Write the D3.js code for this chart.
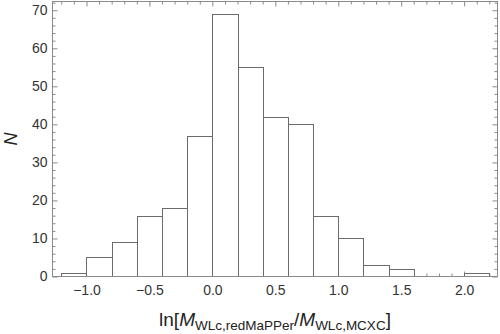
<!DOCTYPE html>
<html>
<head>
<meta charset="utf-8">
<script src="https://cdn.jsdelivr.net/npm/d3@7"></script>
<style>
body { margin: 0; background: #fff; }
text { font-family: "Liberation Sans", Arial, sans-serif; }
</style>
</head>
<body>
<svg id="chart" width="500" height="334"></svg>
<script>
// histogram bins (left edges), width 0.2
var binStarts = [-1.2, -1.0, -0.8, -0.6, -0.4, -0.2, 0.0, 0.2, 0.4, 0.6, 0.8, 1.0, 1.2, 1.4, 1.6, 1.8, 2.0];
var counts    = [1, 5, 9, 16, 18, 37, 69, 55, 42, 40, 16, 10, 3, 2, 0, 0, 1];
var binWidth = 0.2;
var xTicks = [-1.0, -0.5, 0.0, 0.5, 1.0, 1.5, 2.0];
var yTicks = [0, 10, 20, 30, 40, 50, 60, 70];

var svg = d3.select("#chart");
var plotL = 52.5, plotR = 497.5, plotT = 1.5, plotB = 276.5;

var x = d3.scaleLinear().domain([-1.27, 2.265]).range([plotL, plotR]);
var y = d3.scaleLinear().domain([0, 72.3]).range([plotB, plotT]);

var bins = binStarts.map(function(b, i){ return {x0: b, x1: b + binWidth, n: counts[i]}; })
	.filter(function(d){ return d.n > 0; });

// minor tick values
var xMinor = d3.range(-12, 23).map(function(i){ return i / 10; })
	.filter(function(v){ return Math.abs(v * 2 - Math.round(v * 2)) > 1e-6; });
var yMinor = d3.range(0, 73, 2).filter(function(v){ return v % 10 != 0; });

var fmt = function(d){ return d3.format(".1f")(d).replace("-", "\u2212"); };

function addAxis(gen, tx, ty, labels){
	var g = svg.append("g").attr("transform", "translate(" + tx + "," + ty + ")").call(gen);
	g.select(".domain").remove();
	g.selectAll(".tick line").attr("stroke", "#8a8a8a");
	if(!labels) g.selectAll("text").remove();
	else g.selectAll("text").attr("fill", "#333").style("font-size", "14px");
	return g;
}

// bottom / top
addAxis(d3.axisBottom(x).tickValues(xTicks).tickFormat(fmt).tickSize(-5).tickPadding(9), 0, plotB, true);
addAxis(d3.axisBottom(x).tickValues(xMinor).tickSize(-3).tickFormat(""), 0, plotB, false);
addAxis(d3.axisTop(x).tickValues(xTicks).tickSize(-5), 0, plotT, false);
addAxis(d3.axisTop(x).tickValues(xMinor).tickSize(-3), 0, plotT, false);
// left / right
addAxis(d3.axisLeft(y).tickValues(yTicks).tickFormat(d3.format("d")).tickSize(-5).tickPadding(5), plotL, 0, true);
addAxis(d3.axisLeft(y).tickValues(yMinor).tickSize(-3).tickFormat(""), plotL, 0, false);
addAxis(d3.axisRight(y).tickValues(yTicks).tickSize(-5), plotR, 0, false);
addAxis(d3.axisRight(y).tickValues(yMinor).tickSize(-3), plotR, 0, false);

svg.append("g")
	.selectAll("rect")
	.data(bins)
	.enter().append("rect")
		.attr("x", function(d){ return Math.round(x(d.x0)) + 0.5; })
		.attr("y", function(d){ return Math.round(y(d.n)) + 0.5; })
		.attr("width", function(d){ return Math.round(x(d.x1)) - Math.round(x(d.x0)); })
		.attr("height", function(d){ return plotB - 0.5 - Math.round(y(d.n)); })
		.attr("fill", "#fff")
		.attr("stroke", "#6b6b6b")
		.attr("stroke-width", 1);

// frame
svg.append("rect")
	.attr("x", plotL).attr("y", plotT)
	.attr("width", plotR - plotL).attr("height", plotB - plotT)
	.attr("fill", "none").attr("stroke", "#8a8a8a");

// axis titles
svg.append("text")
	.attr("transform", "translate(17," + (plotT + plotB) / 2 + ") rotate(-90)")
	.attr("text-anchor", "middle")
	.style("font-size", "18px").style("font-style", "italic").attr("fill", "#222")
	.text("N");

var xl = svg.append("text")
	.attr("x", (plotL + plotR) / 2).attr("y", 326)
	.attr("text-anchor", "middle")
	.style("font-size", "19px").attr("fill", "#222");
xl.append("tspan").text("ln[");
xl.append("tspan").style("font-style", "italic").text("M");
xl.append("tspan").style("font-size", "13.5px").attr("dy", 4).text("WLc,redMaPPer");
xl.append("tspan").attr("dy", -4).text("/");
xl.append("tspan").style("font-style", "italic").text("M");
xl.append("tspan").style("font-size", "13.5px").attr("dy", 4).text("WLc,MCXC");
xl.append("tspan").attr("dy", -4).text("]");
</script>
</body>
</html>
